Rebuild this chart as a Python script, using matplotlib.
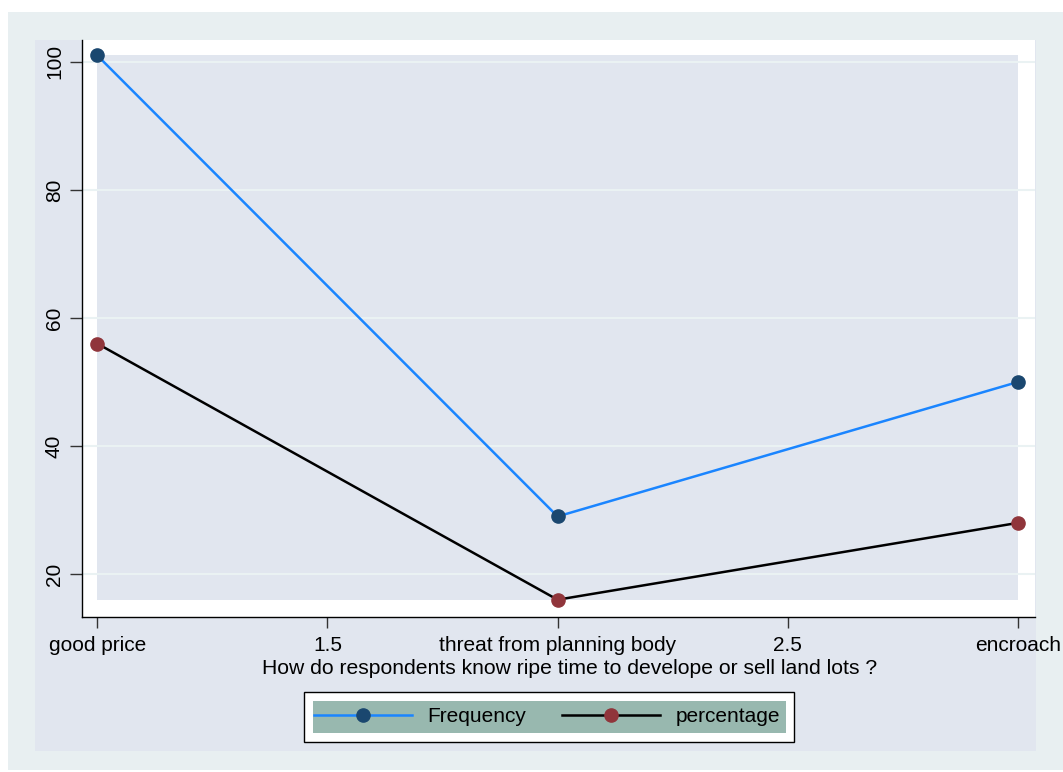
import numpy as np
import matplotlib.pyplot as plt
from matplotlib.patches import Rectangle

plt.rcParams['font.family'] = ['Liberation Sans', 'DejaVu Sans']

# data
x_pos = [1, 2, 3]
frequency = [101, 29, 50]
percentage = [56, 16, 28]
xtick_pos = [1, 1.5, 2, 2.5, 3]
xtick_labels = ['good price', '1.5', 'threat from planning body', '2.5', 'encroach']
ytick_pos = [20, 40, 60, 80, 100]

W, H = 1063, 772
fig = plt.figure(figsize=(W / 100, H / 100), dpi=100)
fig.patch.set_facecolor('white')

def fbox(x0, y0, x1, y1, **kw):
    # rectangle in pixel coords (top-left origin) on the figure
    r = Rectangle((x0 / W, 1 - y1 / H), (x1 - x0) / W, (y1 - y0) / H,
                  transform=fig.transFigure, **kw)
    fig.patches.append(r)
    return r

fbox(8, 12, 1063, 770, facecolor='#e8eff1', edgecolor='none', zorder=-2)
fbox(35, 40, 1036, 751, facecolor='#e1e6ef', edgecolor='none', zorder=-1)

ax = fig.add_axes([82 / W, 1 - 617 / H, (1035 - 82) / W, (617 - 40) / H])
ax.set_zorder(2)
ax.set_facecolor('white')
ax.set_xlim(0.967, 3.037)
ax.set_ylim(13.3, 103.4)

# shaded inner region covering data range
ax.add_patch(Rectangle((1, 16), 2, 85, facecolor='#e1e6ef', edgecolor='none', zorder=0))
for y in ytick_pos:
    ax.axhline(y, color='#eaf2f3', lw=1.5, zorder=0.5)

ax.plot(x_pos, frequency, color='#1a85ff', lw=1.8, marker='o', ms=9.5,
        mfc='#1a476f', mec='#1a476f', label='Frequency', zorder=3)
ax.plot(x_pos, percentage, color='black', lw=1.8, marker='o', ms=9.5,
        mfc='#90353b', mec='#90353b', label='percentage', zorder=3)

for s in ['top', 'right']:
    ax.spines[s].set_visible(False)
for s in ['left', 'bottom']:
    ax.spines[s].set_color('black')
    ax.spines[s].set_linewidth(1.0)

ax.set_yticks(ytick_pos)
ax.set_yticklabels([str(v) for v in ytick_pos], rotation=90, va='center', fontsize=15)
ax.set_xticks(xtick_pos)
ax.set_xticklabels(xtick_labels, fontsize=15)
ax.tick_params(axis='y', length=9, width=1, color='#333333', pad=4)
ax.tick_params(axis='x', length=8, width=1, color='#333333', pad=6)
ax.set_xlabel('How do respondents know ripe time to develope or sell land lots ?',
              fontsize=15.2)
ax.xaxis.set_label_coords((570 - 82) / (1035 - 82), -(659 - 617) / (617 - 40))

# legend: white box with black border, teal inner fill
fbox(304, 692, 794, 742, facecolor='white', edgecolor='black', lw=1.0, zorder=1)
fbox(313, 701, 786, 733, facecolor='#98b8af', edgecolor='none', zorder=1.5)
fig.legend(*ax.get_legend_handles_labels(), loc='center', ncol=2, frameon=False,
           bbox_to_anchor=(547 / W, 1 - 717 / H), fontsize=15, numpoints=1,
           handlelength=4.7, handletextpad=0.72, columnspacing=1.75)

fig.savefig('out.png', dpi=100)
